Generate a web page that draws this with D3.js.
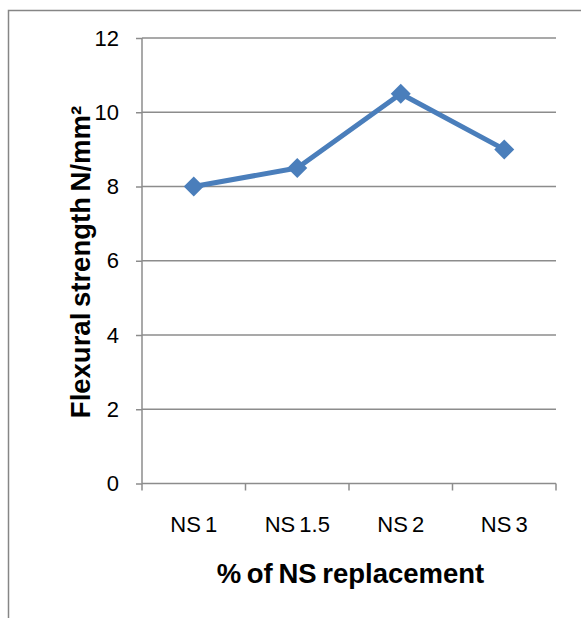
<!DOCTYPE html>
<html><head><meta charset="utf-8">
<script src="https://cdn.jsdelivr.net/npm/d3@7"></script>
<style>body{margin:0;background:#fff}svg{display:block}</style>
</head><body>
<script>
const categories = ["NS 1", "NS 1.5", "NS 2", "NS 3"];
const values = [8.0, 8.5, 10.5, 9.0];
const yTicks = [0, 2, 4, 6, 8, 10, 12];
const yTitle = "Flexural strength N/mm²";
const xTitle = "% of NS replacement";

const W = 581, H = 618;
const svg = d3.select("body").append("svg").attr("width", W).attr("height", H);
svg.append("rect").attr("x", 8.5).attr("y", 10.5).attr("width", 600).attr("height", 700)
  .attr("fill", "none").attr("stroke", "#868686").attr("stroke-width", 1.5);

const L = 142, R = 556, T = 38, B = 483.5;
const x = d3.scaleBand().domain(categories).range([L, R]);
const y = d3.scaleLinear().domain([0, 12]).range([B, T]);
const font = "Liberation Sans, Arial, sans-serif";

// gridlines
svg.append("g").selectAll("line").data(yTicks.filter(d => d > 0)).join("line")
  .attr("x1", L).attr("x2", R).attr("y1", d => y(d)).attr("y2", d => y(d))
  .attr("stroke", "#8c8c8c").attr("stroke-width", 1.5);

// y axis
const ya = svg.append("g").attr("transform", `translate(${L},0)`)
  .call(d3.axisLeft(y).tickValues(yTicks).tickSize(6).tickPadding(17).tickFormat(d3.format("d")));
ya.select(".domain").attr("stroke", "#8c8c8c").attr("stroke-width", 1.5).attr("d", `M0,${T}V${B}`);
ya.selectAll(".tick line").attr("stroke", "#8c8c8c").attr("stroke-width", 1.5);
ya.selectAll(".tick text").attr("font-family", font).attr("font-size", 22).attr("fill", "#000");

// x axis
const xa = svg.append("g").attr("transform", `translate(0,${B})`)
  .call(d3.axisBottom(x).tickSize(0).tickPadding(33));
xa.select(".domain").attr("stroke", "#8c8c8c").attr("stroke-width", 1.5).attr("d", `M${L},0H${R}`);
xa.selectAll(".tick text").attr("font-family", font).attr("font-size", 22).attr("fill", "#000")
  .attr("word-spacing", -2);
const bounds = [L].concat(categories.map(c => x(c) + x.bandwidth()));
xa.selectAll(".sep").data(bounds).join("line").attr("class", "sep")
  .attr("x1", d => d).attr("x2", d => d).attr("y1", 0).attr("y2", 7)
  .attr("stroke", "#8c8c8c").attr("stroke-width", 1.5);

// line
const cx = (d, i) => x(categories[i]) + x.bandwidth() / 2;
svg.append("path").datum(values)
  .attr("d", d3.line().x((d, i) => cx(d, i)).y(d => y(d)))
  .attr("fill", "none").attr("stroke", "#4a7ebb").attr("stroke-width", 5).attr("stroke-linejoin", "round");
svg.append("g").selectAll("path").data(values).join("path")
  .attr("transform", (d, i) => `translate(${cx(d, i)},${y(d)})`)
  .attr("d", "M0,-10L10,0L0,10L-10,0Z").attr("fill", "#4a7ebb");

// titles
svg.append("text").attr("x", 350.5).attr("y", 583).attr("text-anchor", "middle")
  .attr("font-family", font).attr("font-weight", "bold").attr("font-size", 27.5).attr("word-spacing", -2).text(xTitle);
svg.append("text").attr("transform", `translate(90,262) rotate(-90)`).attr("text-anchor", "middle")
  .attr("font-family", font).attr("font-weight", "bold").attr("font-size", 27.5).attr("word-spacing", -2).text(yTitle);
</script>
</body></html>
